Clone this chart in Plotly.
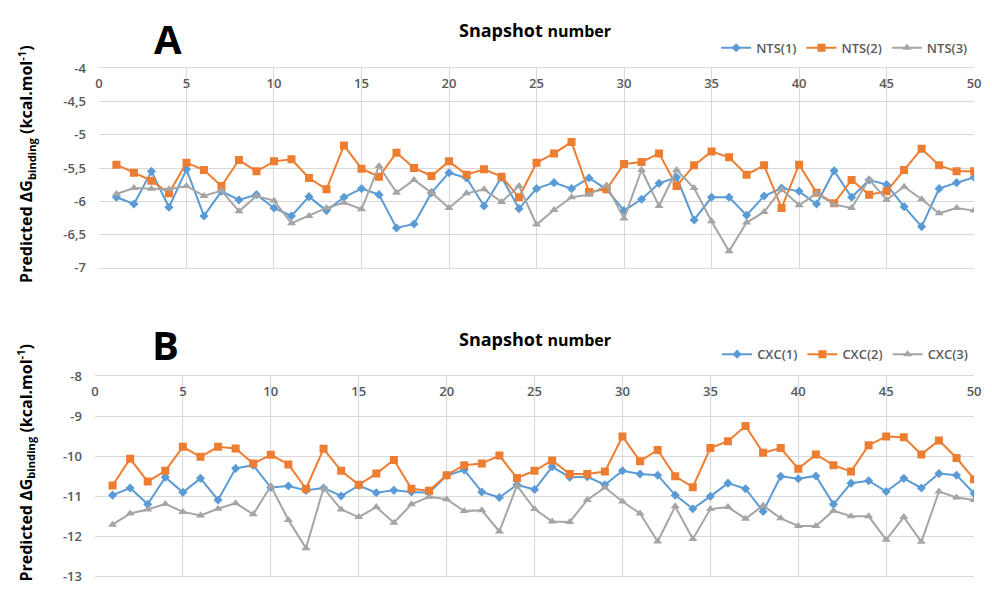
import plotly.graph_objects as go

snapshots = list(range(1, 51))

nts1 = [-5.94, -6.04, -5.55, -6.09, -5.52, -6.22, -5.85, -5.98, -5.90, -6.10,
        -6.22, -5.93, -6.14, -5.94, -5.81, -5.90, -6.40, -6.34, -5.87, -5.57,
        -5.65, -6.07, -5.64, -6.11, -5.81, -5.72, -5.81, -5.65, -5.82, -6.14,
        -5.97, -5.73, -5.64, -6.28, -5.94, -5.94, -6.21, -5.92, -5.80, -5.85,
        -6.04, -5.54, -5.94, -5.68, -5.75, -6.08, -6.38, -5.81, -5.72, -5.64]
nts2 = [-5.45, -5.57, -5.69, -5.88, -5.42, -5.53, -5.77, -5.38, -5.55, -5.40,
        -5.37, -5.65, -5.82, -5.16, -5.51, -5.63, -5.27, -5.50, -5.62, -5.40,
        -5.60, -5.52, -5.63, -5.94, -5.42, -5.28, -5.11, -5.86, -5.82, -5.44,
        -5.41, -5.28, -5.77, -5.46, -5.25, -5.34, -5.60, -5.46, -6.10, -5.45,
        -5.87, -6.03, -5.68, -5.90, -5.85, -5.53, -5.21, -5.46, -5.55, -5.55]
nts3 = [-5.89, -5.80, -5.81, -5.82, -5.77, -5.92, -5.84, -6.15, -5.92, -5.99,
        -6.33, -6.22, -6.10, -6.02, -6.12, -5.47, -5.87, -5.68, -5.87, -6.10,
        -5.88, -5.82, -6.01, -5.77, -6.35, -6.13, -5.94, -5.90, -5.76, -6.26,
        -5.53, -6.07, -5.53, -5.80, -6.30, -6.75, -6.32, -6.16, -5.82, -6.06,
        -5.88, -6.05, -6.10, -5.67, -5.98, -5.78, -5.97, -6.18, -6.10, -6.14]

cxc1 = [-10.97, -10.79, -11.20, -10.52, -10.90, -10.55, -11.09, -10.30, -10.22, -10.78,
        -10.74, -10.85, -10.79, -10.99, -10.73, -10.91, -10.85, -10.89, -10.91, -10.48,
        -10.34, -10.89, -11.03, -10.71, -10.83, -10.26, -10.52, -10.51, -10.71, -10.36,
        -10.44, -10.47, -10.97, -11.31, -11.00, -10.67, -10.81, -11.38, -10.50, -10.56,
        -10.49, -11.20, -10.67, -10.61, -10.88, -10.55, -10.79, -10.43, -10.47, -10.93]
cxc2 = [-10.73, -10.06, -10.63, -10.36, -9.76, -10.01, -9.76, -9.80, -10.18, -9.96,
        -10.20, -10.81, -9.81, -10.36, -10.71, -10.43, -10.09, -10.81, -10.86, -10.47,
        -10.22, -10.18, -9.98, -10.54, -10.36, -10.10, -10.44, -10.44, -10.38, -9.50,
        -10.12, -9.84, -10.50, -10.77, -9.79, -9.62, -9.24, -9.91, -9.79, -10.31,
        -9.95, -10.22, -10.38, -9.72, -9.50, -9.52, -9.95, -9.60, -10.04, -10.57]
cxc3 = [-11.71, -11.43, -11.33, -11.19, -11.39, -11.48, -11.31, -11.17, -11.45, -10.74,
        -11.59, -12.30, -10.79, -11.33, -11.52, -11.27, -11.66, -11.20, -11.01, -11.07,
        -11.37, -11.35, -11.88, -10.73, -11.32, -11.63, -11.64, -11.09, -10.78, -11.13,
        -11.43, -12.13, -11.25, -12.07, -11.32, -11.27, -11.56, -11.23, -11.55, -11.74,
        -11.74, -11.36, -11.50, -11.50, -12.09, -11.52, -12.14, -10.88, -11.03, -11.09]

x_ticks = [0, 5, 10, 15, 20, 25, 30, 35, 40, 45, 50]
a_ticks = [-4, -4.5, -5, -5.5, -6, -6.5, -7]
a_tick_text = ["-4", "-4,5", "-5", "-5,5", "-6", "-6,5", "-7"]
b_ticks = [-8, -9, -10, -11, -12, -13]
b_tick_text = ["-8", "-9", "-10", "-11", "-12", "-13"]

BLUE = "#5B9BD5"
ORANGE = "#ED7D31"
GRAY = "#A5A5A5"
GRID = "#D9D9D9"
TICK = "#595959"

styles = [
    (BLUE, "diamond", 7),
    (ORANGE, "square", 8),
    (GRAY, "triangle-up", 8),
]

fig = go.Figure()

panel_a = [("NTS(1)", nts1), ("NTS(2)", nts2), ("NTS(3)", nts3)]
panel_b = [("CXC(1)", cxc1), ("CXC(2)", cxc2), ("CXC(3)", cxc3)]

for (name, vals), (col, sym, sz) in zip(panel_a, styles):
    fig.add_trace(go.Scatter(
        x=snapshots, y=vals, name=name, mode="lines+markers",
        line=dict(color=col, width=2),
        marker=dict(color=col, symbol=sym, size=sz),
        xaxis="x", yaxis="y", legend="legend",
    ))

for (name, vals), (col, sym, sz) in zip(panel_b, styles):
    fig.add_trace(go.Scatter(
        x=snapshots, y=vals, name=name, mode="lines+markers",
        line=dict(color=col, width=2),
        marker=dict(color=col, symbol=sym, size=sz),
        xaxis="x2", yaxis="y2", legend="legend2",
    ))

W, H = 992, 593


def px_x(v):
    return v / W


def px_y(v):
    return 1 - v / H


tick_font = dict(family="Open Sans", size=13, color=TICK, weight=600)
legend_font = dict(family="Open Sans", size=13, color=TICK, weight=600)

xaxis_common = dict(
    range=[0, 50], tickvals=x_ticks, side="top",
    ticklabelposition="inside", ticklabelstandoff=10,
    ticklabeloverflow="allow",
    showgrid=True, gridcolor=GRID, gridwidth=1,
    showline=True, linecolor=GRID, linewidth=1, mirror=True,
    zeroline=False, ticks="", tickfont=tick_font,
)
yaxis_common = dict(
    showgrid=True, gridcolor=GRID, gridwidth=1,
    zeroline=False, ticks="", tickfont=tick_font,
    ticklabelstandoff=12,
)

fig.update_layout(
    width=W, height=H,
    margin=dict(l=0, r=0, t=0, b=0),
    paper_bgcolor="white", plot_bgcolor="white",
    xaxis=dict(domain=[px_x(96), px_x(981)], anchor="y", **xaxis_common),
    yaxis=dict(domain=[px_y(267), px_y(61)], anchor="x", range=[-7.0005, -3.9995],
               tickvals=a_ticks, ticktext=a_tick_text, **yaxis_common),
    xaxis2=dict(domain=[px_x(92), px_x(981)], anchor="y2", **xaxis_common),
    yaxis2=dict(domain=[px_y(585), px_y(379)], anchor="x2", range=[-13.0008, -7.9992],
                tickvals=b_ticks, ticktext=b_tick_text, **yaxis_common),
    legend=dict(orientation="h", x=px_x(980), xanchor="right",
                y=px_y(40), yanchor="middle", font=legend_font,
                bgcolor="rgba(0,0,0,0)", itemwidth=30),
    legend2=dict(orientation="h", x=px_x(980), xanchor="right",
                 y=px_y(356), yanchor="middle", font=legend_font,
                 bgcolor="rgba(0,0,0,0)", itemwidth=30),
    showlegend=True,
)

y_title = "<b>Predicted ΔG<sub>binding</sub> (kcal.mol<sup>-1</sup>)</b>"
title_html = "<b>Snapshot</b> <b><span style='font-size:16px'>number</span></b>"

annotations = [
    dict(text="<b>A</b>", x=px_x(166), y=px_y(30), font=dict(size=40, color="black", family="Open Sans")),
    dict(text="<b>B</b>", x=px_x(163), y=px_y(346), font=dict(size=40, color="black", family="Open Sans")),
    dict(text=title_html, x=px_x(537), y=px_y(22), font=dict(size=18, color="black", family="Open Sans")),
    dict(text=title_html, x=px_x(537), y=px_y(340), font=dict(size=18, color="black", family="Open Sans")),
    dict(text=y_title, x=px_x(22), y=px_y(160), textangle=-90,
         font=dict(size=16, color="black", family="Open Sans")),
    dict(text=y_title, x=px_x(22), y=px_y(468), textangle=-90,
         font=dict(size=16, color="black", family="Open Sans")),
]
for a in annotations:
    a.update(xref="paper", yref="paper", showarrow=False,
             xanchor="center", yanchor="middle")
fig.update_layout(annotations=annotations)

fig.write_html("out.html")
